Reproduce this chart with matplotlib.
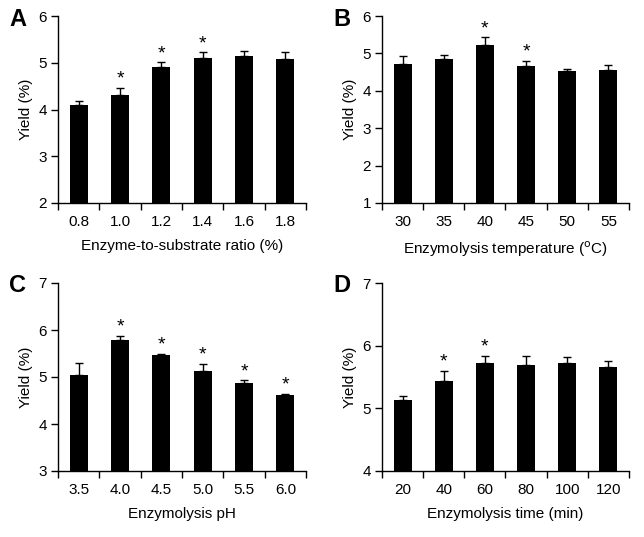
import matplotlib
matplotlib.use("Agg")
import matplotlib.pyplot as plt
import numpy as np

plt.rcParams["font.family"] = ["Liberation Sans", "DejaVu Sans"]

# Panel A: enzyme-to-substrate ratio
ratio_labels = ["0.8", "1.0", "1.2", "1.4", "1.6", "1.8"]
ratio_yield = [4.09, 4.30, 4.91, 5.11, 5.14, 5.09]
ratio_err = [0.09, 0.17, 0.10, 0.11, 0.12, 0.15]
ratio_sig = [False, True, True, True, False, False]

# Panel B: temperature
temp_labels = ["30", "35", "40", "45", "50", "55"]
temp_yield = [4.71, 4.85, 5.22, 4.66, 4.53, 4.56]
temp_err = [0.22, 0.11, 0.21, 0.15, 0.05, 0.12]
temp_sig = [False, False, True, True, False, False]

# Panel C: pH
ph_labels = ["3.5", "4.0", "4.5", "5.0", "5.5", "6.0"]
ph_yield = [5.04, 5.78, 5.46, 5.13, 4.88, 4.62]
ph_err = [0.25, 0.10, 0.04, 0.15, 0.05, 0.02]
ph_sig = [False, True, True, True, True, True]

# Panel D: time
time_labels = ["20", "40", "60", "80", "100", "120"]
time_yield = [5.13, 5.43, 5.73, 5.69, 5.72, 5.66]
time_err = [0.07, 0.17, 0.11, 0.14, 0.10, 0.10]
time_sig = [False, True, True, False, False, False]

panels = [
    ("A", ratio_labels, ratio_yield, ratio_err, ratio_sig, (2, 6), "Enzyme-to-substrate ratio (%)"),
    ("B", temp_labels, temp_yield, temp_err, temp_sig, (1, 6), "Enzymolysis temperature ($^{\\rm o}$C)"),
    ("C", ph_labels, ph_yield, ph_err, ph_sig, (3, 7), "Enzymolysis pH"),
    ("D", time_labels, time_yield, time_err, time_sig, (4, 7), "Enzymolysis time (min)"),
]

W, H = 644, 537
fig = plt.figure(figsize=(W / 100, H / 100), dpi=100)

# axes boxes in pixels: left, top, right, bottom
boxes = [
    (58, 16, 306, 203),
    (382, 16, 629, 203),
    (58, 283, 306, 471),
    (382, 283, 629, 471),
]

for (letter, labels, vals, errs, sig, ylim, xlabel), (l, t, r, b) in zip(panels, boxes):
    ax = fig.add_axes([l / W, 1 - b / H, (r - l) / W, (b - t) / H])
    x = np.arange(len(vals))
    ax.bar(x, vals, width=0.44, color="black", zorder=2)
    ax.errorbar(x, vals, yerr=[np.zeros(len(errs)), errs], fmt="none",
                ecolor="black", elinewidth=1.0, capsize=3, capthick=1.0, zorder=1)
    for xi, v, e, s in zip(x, vals, errs, sig):
        if s:
            ax.text(xi, v + e, "*", ha="center", va="bottom", fontsize=14)
    ax.set_xlim(-0.5, len(vals) - 0.5)
    ax.set_ylim(*ylim)
    ax.set_yticks(np.arange(ylim[0], ylim[1] + 1))
    ax.set_xticks(x)
    ax.set_xticklabels(labels)
    ax.set_xticks(np.arange(-0.5, len(vals)), minor=True)
    ax.tick_params(axis="x", which="major", length=0, pad=9, labelsize=11)
    ax.tick_params(axis="x", which="minor", length=5, width=1, direction="out")
    ax.tick_params(axis="y", length=5, width=1, direction="out", labelsize=11, pad=3)
    for side in ["top", "right"]:
        ax.spines[side].set_visible(False)
    for side in ["left", "bottom"]:
        ax.spines[side].set_linewidth(1.0)
    ax.set_ylabel("Yield (%)", fontsize=11, labelpad=4)
    ax.set_xlabel(xlabel, fontsize=11, labelpad=7)
    fig.text((l - 49) / W, 1 - (t + 3) / H, letter, fontsize=17, fontweight="bold",
             ha="left", va="center")

fig.savefig("out.png", dpi=100)
